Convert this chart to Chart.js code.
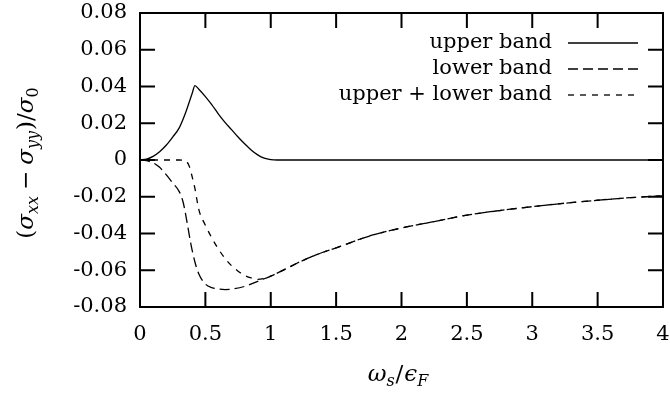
<!DOCTYPE html>
<html>
<head>
<meta charset="utf-8">
<script src="https://cdn.jsdelivr.net/npm/chart.js@4/dist/chart.umd.min.js"></script>
<style>
  html, body { margin: 0; padding: 0; background: #fff; }
  canvas { display: block; }
</style>
</head>
<body>
<canvas id="c" width="670" height="394"></canvas>
<script>
// Tick positions and their printed labels
const xTicks = [0, 0.5, 1, 1.5, 2, 2.5, 3, 3.5, 4];
const xTickLabels = ['0', '0.5', '1', '1.5', '2', '2.5', '3', '3.5', '4'];
const yTicks = [-0.08, -0.06, -0.04, -0.02, 0, 0.02, 0.04, 0.06, 0.08];
const yTickLabels = ['-0.08', '-0.06', '-0.04', '-0.02', '0', '0.02', '0.04', '0.06', '0.08'];

// Upper band contribution
const upperX = [0, 0.05, 0.1, 0.15, 0.2, 0.25, 0.3, 0.35, 0.4, 0.42, 0.45, 0.5, 0.55, 0.6, 0.65, 0.7, 0.75, 0.8, 0.85, 0.9, 0.95, 1.0, 1.05, 1.5, 2, 2.5, 3, 3.5, 4];
const upperY = [0, 0.0005, 0.002, 0.0045, 0.008, 0.0125, 0.0175, 0.026, 0.0365, 0.0405, 0.0385, 0.0345, 0.030, 0.025, 0.0205, 0.0165, 0.0125, 0.0088, 0.0055, 0.0028, 0.001, 0.0002, 0, 0, 0, 0, 0, 0, 0];

// Lower band contribution
const lowerX = [0, 0.05, 0.1, 0.15, 0.2, 0.25, 0.3, 0.33, 0.36, 0.39, 0.42, 0.45, 0.5, 0.55, 0.6, 0.65, 0.7, 0.8, 0.9, 1.0, 1.1, 1.2, 1.3, 1.4, 1.5, 1.75, 2.0, 2.25, 2.5, 2.75, 3.0, 3.25, 3.5, 3.75, 4.0];
const lowerY = [0, -0.0004, -0.0015, -0.004, -0.008, -0.0125, -0.0172, -0.023, -0.034, -0.046, -0.0555, -0.062, -0.0675, -0.0695, -0.0702, -0.0705, -0.0703, -0.0688, -0.066, -0.0632, -0.0598, -0.0562, -0.053, -0.0502, -0.0478, -0.0415, -0.037, -0.0335, -0.030, -0.0275, -0.0254, -0.0235, -0.0219, -0.0205, -0.0195];

// Both bands together
const totalX = [0, 0.1, 0.2, 0.3, 0.35, 0.38, 0.4, 0.42, 0.45, 0.5, 0.55, 0.6, 0.65, 0.7, 0.75, 0.8, 0.85, 0.9, 0.95, 1.0, 1.1, 1.2, 1.3, 1.4, 1.5, 1.75, 2.0, 2.25, 2.5, 2.75, 3.0, 3.25, 3.5, 3.75, 4.0];
const totalY = [0, 0, 0, 0, -0.0005, -0.004, -0.0095, -0.0155, -0.027, -0.0355, -0.0425, -0.0485, -0.0535, -0.0575, -0.0605, -0.0628, -0.0642, -0.065, -0.0645, -0.0632, -0.0598, -0.0562, -0.053, -0.0502, -0.0478, -0.0415, -0.037, -0.0335, -0.030, -0.0275, -0.0254, -0.0235, -0.0219, -0.0205, -0.0195];

const seriesNames = ['upper band', 'lower band', 'upper + lower band'];

const FAMILY = "'DejaVu Serif', 'Liberation Serif', serif";
const FONT_SIZE = 21;

const toPoints = (xs, ys) => xs.map((x, i) => ({ x: x, y: ys[i] }));

function lineStyle(dash) {
  return {
    borderColor: '#000',
    borderWidth: 1.3,
    borderDash: dash,
    pointRadius: 0,
    fill: false,
    cubicInterpolationMode: 'monotone'
  };
}

// Closed frame with inward tick marks on all four sides
const framePlugin = {
  id: 'frame',
  afterDatasetsDraw(chart) {
    const { ctx, chartArea: a, scales } = chart;
    const len = 15;
    ctx.save();
    ctx.strokeStyle = '#000';
    ctx.lineWidth = 2;
    ctx.setLineDash([]);
    ctx.beginPath();
    scales.x.ticks.forEach(t => {
      const px = scales.x.getPixelForValue(t.value);
      ctx.moveTo(px, a.bottom); ctx.lineTo(px, a.bottom - len);
      ctx.moveTo(px, a.top); ctx.lineTo(px, a.top + len);
    });
    scales.y.ticks.forEach(t => {
      const py = scales.y.getPixelForValue(t.value);
      ctx.moveTo(a.left, py); ctx.lineTo(a.left + len, py);
      ctx.moveTo(a.right, py); ctx.lineTo(a.right - len, py);
    });
    ctx.stroke();
    ctx.strokeRect(a.left, a.top, a.right - a.left, a.bottom - a.top);
    ctx.restore();
  }
};

// Key in the upper right: name on the left, line sample on the right
const keyPlugin = {
  id: 'key',
  afterDatasetsDraw(chart) {
    const { ctx } = chart;
    const textRight = 552, lineStart = 568, lineEnd = 638;
    const rows = [43, 69, 95];
    ctx.save();
    ctx.font = FONT_SIZE + 'px ' + FAMILY;
    ctx.fillStyle = '#000';
    ctx.textAlign = 'right';
    ctx.textBaseline = 'middle';
    chart.data.datasets.forEach((ds, i) => {
      const y = rows[i];
      ctx.fillText(ds.label, textRight, y);
      ctx.strokeStyle = ds.borderColor;
      ctx.lineWidth = ds.borderWidth;
      ctx.setLineDash(ds.borderDash || []);
      ctx.beginPath();
      ctx.moveTo(lineStart, y);
      ctx.lineTo(lineEnd, y);
      ctx.stroke();
    });
    ctx.restore();
  }
};

// Axis titles with italic symbols and subscripts
const TITLE_SIZE = 23, SUB_SIZE = 16;
function partFont(p) {
  const size = p.sub ? SUB_SIZE : TITLE_SIZE;
  return (p.it ? 'italic ' : '') + size + 'px ' + FAMILY;
}
function richWidth(ctx, parts) {
  let w = 0;
  parts.forEach(p => { ctx.font = partFont(p); w += ctx.measureText(p.t).width + (p.gap || 0); });
  return w;
}
function drawRich(ctx, parts, cx, baseY) {
  let x = cx - richWidth(ctx, parts) / 2;
  ctx.textAlign = 'left';
  ctx.textBaseline = 'alphabetic';
  parts.forEach(p => {
    ctx.font = partFont(p);
    ctx.fillText(p.t, x, baseY + (p.sub ? 5 : 0));
    x += ctx.measureText(p.t).width + (p.gap || 0);
  });
}

const xTitle = [
  { t: 'ω', it: true }, { t: 's', it: true, sub: true, gap: 1 },
  { t: '/', gap: 1 }, { t: 'ϵ', it: true }, { t: 'F', it: true, sub: true }
];
const yTitle = [
  { t: '(' }, { t: 'σ', it: true }, { t: 'xx', it: true, sub: true, gap: 6 },
  { t: '−', gap: 6 }, { t: 'σ', it: true }, { t: 'yy', it: true, sub: true, gap: 1 },
  { t: ')/' }, { t: 'σ', it: true }, { t: '0', sub: true }
];

const titlePlugin = {
  id: 'titles',
  afterDraw(chart) {
    const { ctx } = chart;
    ctx.save();
    ctx.fillStyle = '#000';
    drawRich(ctx, xTitle, 398, 381);
    ctx.translate(33, 163);
    ctx.rotate(-Math.PI / 2);
    drawRich(ctx, yTitle, 0, 0);
    ctx.restore();
  }
};

const tickFont = { family: FAMILY, size: FONT_SIZE };

new Chart(document.getElementById('c').getContext('2d'), {
  type: 'line',
  data: {
    datasets: [
      Object.assign({ label: seriesNames[0], data: toPoints(upperX, upperY) }, lineStyle([])),
      Object.assign({ label: seriesNames[1], data: toPoints(lowerX, lowerY) }, lineStyle([10, 5])),
      Object.assign({ label: seriesNames[2], data: toPoints(totalX, totalY) }, lineStyle([6, 6]))
    ]
  },
  options: {
    responsive: false,
    animation: false,
    devicePixelRatio: 1,
    layout: { padding: { left: 0, right: 7, top: 13, bottom: 0 } },
    plugins: { legend: { display: false }, tooltip: { enabled: false } },
    scales: {
      x: {
        type: 'linear',
        min: 0, max: 4,
        afterBuildTicks: s => { s.ticks = xTicks.map(v => ({ value: v })); },
        afterFit: s => { s.height = 87; s.paddingLeft = 0; s.paddingRight = 0; },
        ticks: {
          autoSkip: false, maxRotation: 0, minRotation: 0,
          color: '#000', font: tickFont, padding: 15,
          callback: v => xTickLabels[xTicks.indexOf(v)]
        },
        grid: { display: false, drawTicks: false },
        border: { display: false }
      },
      y: {
        type: 'linear',
        min: -0.08, max: 0.08,
        afterBuildTicks: s => { s.ticks = yTicks.map(v => ({ value: v })); },
        afterFit: s => { s.width = 140; s.paddingTop = 0; s.paddingBottom = 0; },
        ticks: {
          autoSkip: false,
          color: '#000', font: tickFont, padding: 13,
          callback: v => yTickLabels[yTicks.findIndex(t => Math.abs(t - v) < 1e-9)]
        },
        grid: { display: false, drawTicks: false },
        border: { display: false }
      }
    }
  },
  plugins: [framePlugin, keyPlugin, titlePlugin]
});
</script>
</body>
</html>
